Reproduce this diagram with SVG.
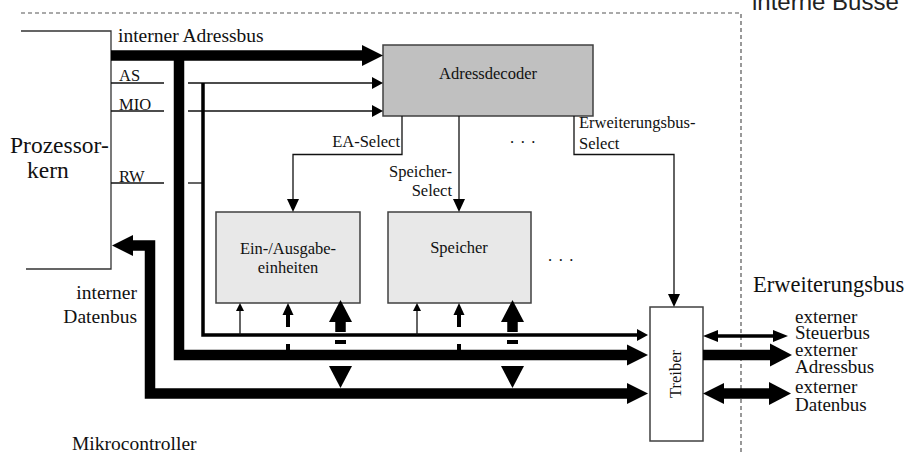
<svg xmlns="http://www.w3.org/2000/svg" width="909" height="455" viewBox="0 0 909 455">
  <style>
    .t { font-family: "Liberation Serif", "Times New Roman", serif; fill: #111; }
    .s16 { font-size: 16.5px; }
    .s19 { font-size: 19.5px; }
    .s18 { font-size: 19px; }
    .s22 { font-size: 22.5px; }
    .s23 { font-size: 23.5px; }
    .mid { text-anchor: middle; }
    .end { text-anchor: end; }
    .box { stroke: #404040; stroke-width: 1.5; }
    .frame { fill: none; stroke: #333; stroke-width: 1.3; }
    .thin { fill: none; stroke: #111; stroke-width: 1.3; }
    .ctl { fill: none; stroke: #000; stroke-width: 3.5; }
    .stub { fill: none; stroke: #000; stroke-width: 4; }
    .bus { fill: none; stroke: #000; stroke-width: 10.5; }
    .head { fill: #000; stroke: none; }
    .border { fill: none; stroke: #555; stroke-width: 1.2; stroke-dasharray: 4 3; }
  </style>
  <defs>
    <marker id="m-bus" markerUnits="userSpaceOnUse" markerWidth="22" markerHeight="22" refX="0" refY="0" orient="auto-start-reverse" overflow="visible">
      <path class="head" d="M0,-10.5 L21,0 L0,10.5 z"/>
    </marker>
    <marker id="m-busw" markerUnits="userSpaceOnUse" markerWidth="23" markerHeight="23" refX="0" refY="0" orient="auto-start-reverse" overflow="visible">
      <path class="head" d="M0,-11.5 L22,0 L0,11.5 z"/>
    </marker>
    <marker id="m-sel" markerUnits="userSpaceOnUse" markerWidth="13" markerHeight="13" refX="0" refY="0" orient="auto-start-reverse" overflow="visible">
      <path class="head" d="M0,-6 L13,0 L0,6 z"/>
    </marker>
    <marker id="m-sig" markerUnits="userSpaceOnUse" markerWidth="12" markerHeight="12" refX="0" refY="0" orient="auto-start-reverse" overflow="visible">
      <path class="head" d="M0,-6 L11,0 L0,6 z"/>
    </marker>
    <marker id="m-ctl" markerUnits="userSpaceOnUse" markerWidth="15" markerHeight="13" refX="0" refY="0" orient="auto-start-reverse" overflow="visible">
      <path class="head" d="M0,-6 L15,0 L0,6 z"/>
    </marker>
    <marker id="m-small" markerUnits="userSpaceOnUse" markerWidth="8" markerHeight="8" refX="0" refY="0" orient="auto-start-reverse" overflow="visible">
      <path class="head" d="M0,-4 L8,0 L0,4 z"/>
    </marker>
    <marker id="m-mid" markerUnits="userSpaceOnUse" markerWidth="12" markerHeight="12" refX="0" refY="0" orient="auto-start-reverse" overflow="visible">
      <path class="head" d="M0,-5.5 L12,0 L0,5.5 z"/>
    </marker>
  </defs>

  <rect width="909" height="455" fill="#fff"/>

  <!-- boundary of the microcontroller -->
  <path class="border" d="M21,13 H741 V455"/>
  <text x="752" y="10" style="font-family: 'Liberation Sans', Arial, sans-serif; font-size: 24px; fill: #222;">interne Busse</text>

  <!-- processor core -->
  <g id="processor">
    <path class="frame" d="M21,31 H111 V269 H26"/>
    <text class="t s23" x="10" y="153">Prozessor-</text>
    <text class="t s23" x="27" y="178">kern</text>
  </g>

  <!-- address decoder -->
  <g id="decoder">
    <rect class="box" x="383" y="45" width="210" height="71" fill="#c0c0c0"/>
    <text class="t s16 mid" x="488" y="79">Adressdecoder</text>
  </g>

  <!-- I/O units -->
  <g id="io">
    <rect class="box" x="216" y="212" width="144" height="91" fill="#e8e8e8"/>
    <text class="t s16 mid" x="288" y="254">Ein-/Ausgabe-</text>
    <text class="t s16 mid" x="288" y="273">einheiten</text>
  </g>

  <!-- memory -->
  <g id="memory">
    <rect class="box" x="388" y="212" width="143" height="91" fill="#e8e8e8"/>
    <text class="t s16 mid" x="459" y="253">Speicher</text>
  </g>

  <!-- bus driver -->
  <g id="driver">
    <rect class="box" x="650" y="307" width="53" height="134" fill="#fff"/>
    <text class="t s16 mid" transform="translate(681,374) rotate(-90)">Treiber</text>
  </g>

  <g id="connectors">
    <!-- internal address bus -->
    <path class="bus" d="M111,55.5 H362" marker-end="url(#m-bus)"/>
    <path class="bus" d="M179,55.5 V355 H627" marker-end="url(#m-bus)"/>

    <!-- control signals AS, MIO, RW -->
    <path class="thin" d="M111,83 H164"/>
    <path class="thin" d="M188,83 H372" marker-end="url(#m-sig)"/>
    <path class="thin" d="M111,111 H164"/>
    <path class="thin" d="M188,111 H372" marker-end="url(#m-sig)"/>
    <path class="thin" d="M111,183 H164"/>
    <path class="thin" d="M188,183 H203"/>
    <path class="ctl" d="M203,83 V335 H637" marker-end="url(#m-sig)"/>

    <!-- internal data bus -->
    <path class="bus" d="M133,245.5 H150 V393.5 H627" marker-start="url(#m-bus)" marker-end="url(#m-bus)"/>

    <!-- select lines -->
    <path class="thin" d="M402,116 V154.5 H293 V199" marker-end="url(#m-sel)"/>
    <path class="thin" d="M459,116 V199" marker-end="url(#m-sel)"/>
    <path class="thin" d="M574,116 V154.5 H674 V294" marker-end="url(#m-sel)"/>

    <!-- taps to the I/O units -->
    <path class="thin" d="M240,335 V311" marker-end="url(#m-small)"/>
    <path class="stub" d="M288,344 V351"/>
    <path class="stub" d="M288,327 V315" marker-end="url(#m-mid)"/>
    <path class="bus" d="M340.5,332 V322" marker-end="url(#m-busw)"/>
    <rect class="head" x="335" y="340" width="11" height="4"/>
    <polygon class="head" points="329,366 352,366 340.5,388"/>

    <!-- taps to the memory -->
    <path class="thin" d="M417,335 V311" marker-end="url(#m-small)"/>
    <path class="stub" d="M459,344 V351"/>
    <path class="stub" d="M459,327 V315" marker-end="url(#m-mid)"/>
    <path class="bus" d="M512.5,332 V322" marker-end="url(#m-busw)"/>
    <rect class="head" x="507" y="340" width="11" height="4"/>
    <polygon class="head" points="501,366 524,366 512.5,388"/>

    <!-- external buses -->
    <path class="ctl" d="M718,336 H773" marker-start="url(#m-ctl)" marker-end="url(#m-ctl)"/>
    <path class="bus" d="M703,355 H770" marker-end="url(#m-busw)"/>
    <path class="bus" d="M724,393.5 H769" marker-start="url(#m-bus)" marker-end="url(#m-busw)"/>
  </g>

  <g id="labels">
    <text class="t s19" x="118" y="42">interner Adressbus</text>
    <text class="t s16" x="119" y="81">AS</text>
    <text class="t s16" x="119" y="110">MIO</text>
    <text class="t s16" x="119" y="182">RW</text>
    <text class="t s16 end" x="400" y="147">EA-Select</text>
    <text class="t s16 end" x="452" y="177">Speicher-</text>
    <text class="t s16 end" x="452" y="196">Select</text>
    <text class="t s16" x="579" y="128">Erweiterungsbus-</text>
    <text class="t s16" x="579" y="149">Select</text>
    <text class="t s16" x="510" y="143" letter-spacing="1.2">. . .</text>
    <text class="t s16" x="548" y="261" letter-spacing="1.2">. . .</text>
    <text class="t s19 end" x="137" y="299">interner</text>
    <text class="t s19 end" x="137" y="323">Datenbus</text>
    <text class="t s19" x="72" y="450">Mikrocontroller</text>
    <text class="t s22" x="753" y="292">Erweiterungsbus</text>
    <text class="t s18" x="795" y="322.5">externer</text>
    <text class="t s18" x="795" y="339">Steuerbus</text>
    <text class="t s18" x="795" y="356">externer</text>
    <text class="t s18" x="795" y="372.5">Adressbus</text>
    <text class="t s18" x="795" y="392.5">externer</text>
    <text class="t s18" x="795" y="410.5">Datenbus</text>
  </g>
</svg>
